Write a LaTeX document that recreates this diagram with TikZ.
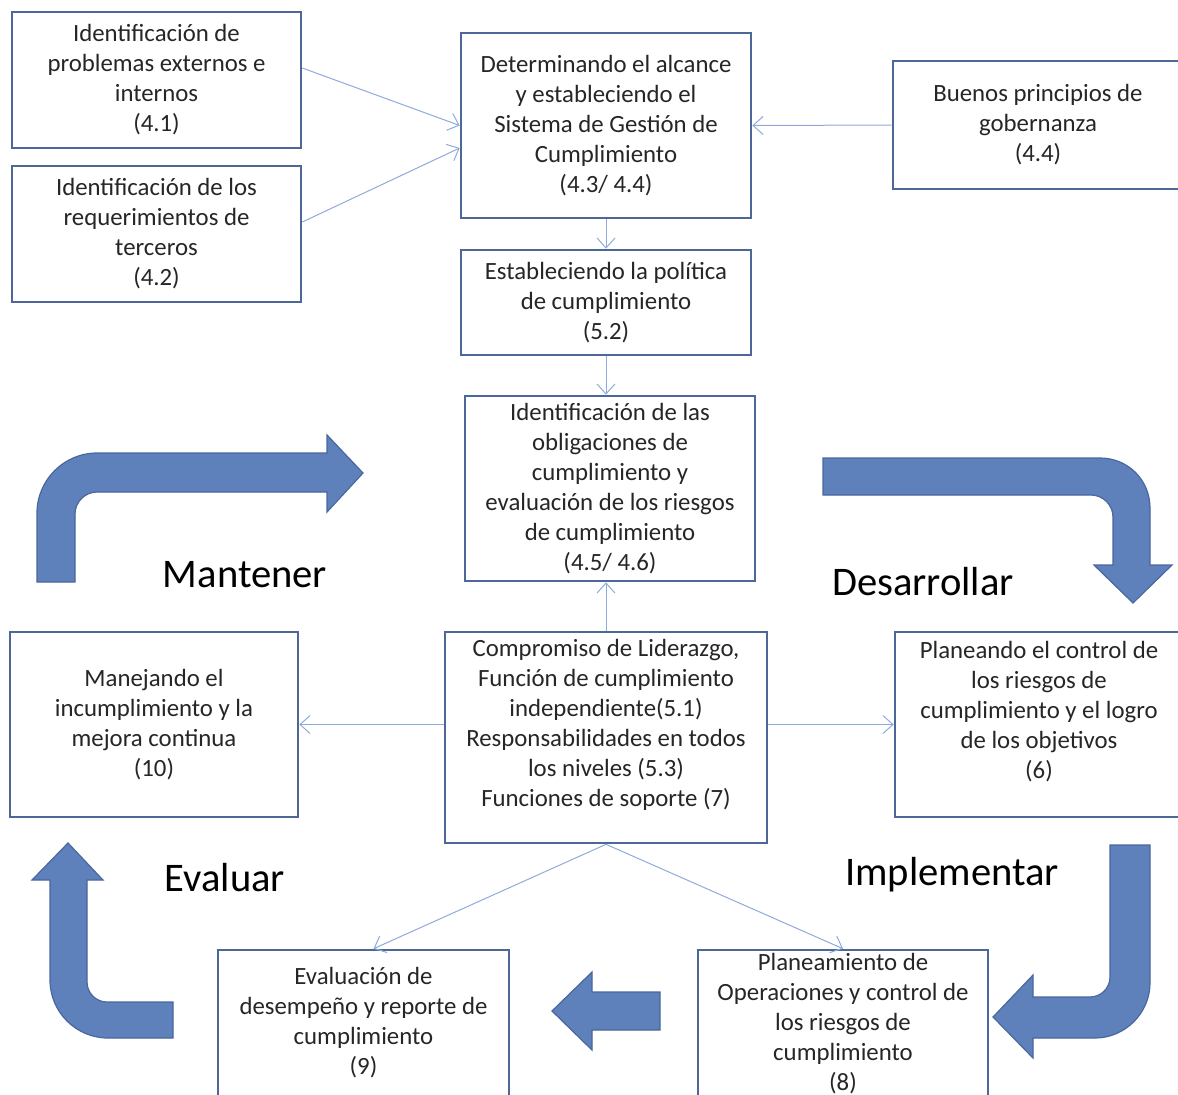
\documentclass[tikz,border=0pt]{standalone}
\usepackage{fontspec}
\setmainfont{Carlito}
\usepackage{xcolor}
\usepackage{tikz}
\usetikzlibrary{positioning, arrows.meta}

\definecolor{boxline}{HTML}{4D6799}
\definecolor{linkblue}{HTML}{8FAADC}
\definecolor{arrowblue}{HTML}{5E80BB}
\definecolor{arrowline}{HTML}{4A679E}
\definecolor{txt}{HTML}{262626}

\begin{document}
\begin{tikzpicture}[
    x=0.5pt, y=-0.5pt,
    box/.style={rectangle, draw=boxline, line width=1.3pt, fill=white, align=center, text=txt, inner sep=0pt, font=\fontsize{12.4}{15}\selectfont},
    link/.style={-{Straight Barb[length=5pt, width=9pt]}, draw=linkblue, line width=0.5pt},
    bigarrow/.style={fill=arrowblue, draw=arrowline, line width=0.6pt},
    phase/.style={text=black, font=\fontsize{20.3}{24}\selectfont},
]
\clip (0,0) rectangle (1178,1094);

% context and scope
\node[box, minimum width=144.5pt, minimum height=68pt] (b41) at (156.5,80) {Identificación de\\problemas externos e\\internos\\(4.1)};
\node[box, minimum width=144.5pt, minimum height=68pt] (b42) at (156.5,234) {Identificación de los\\requerimientos de\\terceros\\(4.2)};
\node[box, minimum width=145pt, minimum height=92.5pt] (b43) at (606,125.5) {Determinando el alcance\\y estableciendo el\\Sistema de Gestión de\\Cumplimiento\\(4.3/ 4.4)};
\node[box, minimum width=145pt, minimum height=64pt] (b44) at (1038,125) {Buenos principios de\\gobernanza\\(4.4)};
\node[box, minimum width=145pt, minimum height=52.5pt, below=14.7pt of b43] (b52) {Estableciendo la política\\de cumplimiento\\(5.2)};
\node[box, minimum width=145pt, minimum height=92.5pt, below=19.2pt of b52, xshift=2pt] (b45) {Identificación de las\\obligaciones de\\cumplimiento y\\evaluación de los riesgos\\de cumplimiento\\(4.5/ 4.6)};

% leadership and cycle
\node[box, minimum width=161pt, minimum height=105.5pt] (blid) at (606,737.5) {Compromiso de Liderazgo,\\Función de cumplimiento\\independiente(5.1)\\Responsabilidades en todos\\los niveles (5.3)\\Funciones de soporte (7)\\ \mbox{}};
\node[box, minimum width=144pt, minimum height=92.5pt] (b10) at (154,724.5) {Manejando el\\incumplimiento y la\\mejora continua\\(10)};
\node[box, minimum width=144pt, minimum height=92.5pt] (b6) at (1039,724.5) {Planeando el control de\\los riesgos de\\cumplimiento y el logro\\de los objetivos\\(6)\\ \mbox{}};
\node[box, minimum width=145.5pt, minimum height=73pt] (b9) at (363.5,1023) {Evaluación de\\desempeño y reporte de\\cumplimiento\\(9)};
\node[box, minimum width=145pt, minimum height=73.5pt] (b8) at (843,1023.5) {Planeamiento de\\Operaciones y control de\\los riesgos de\\cumplimiento\\(8)};

\draw[link] ([yshift=6pt]b41.east) -- (b43.west);
\draw[link] ([yshift=6pt]b42.east) -- ([yshift=-11.25pt]b43.west);
\draw[link] (b44.west) -- (b43.east);
\draw[link] (b43.south) -- (b52.north);
\draw[link] (b52.south) -- (b52.south |- b45.north);
\draw[link] (blid.north) -- (blid.north |- b45.south);
\draw[link] ([yshift=6.5pt]blid.west) -- (b10.east);
\draw[link] ([yshift=6.5pt]blid.east) -- (b6.west);
\draw[link] (blid.south) -- ([xshift=5pt]b9.north);
\draw[link] (blid.south) -- (b8.north);

% big cycle arrows
\draw[bigarrow] (37,582) -- (37,513) .. controls (37,480) and (64,453) .. (97,453) -- (327,453) -- (327,435) -- (363,473) -- (327,512) -- (327,492) -- (97,492) .. controls (85,492) and (75,502) .. (75,514) -- (75,582) -- cycle;
\draw[bigarrow] (823,458) -- (1100,458) .. controls (1128,458) and (1150,480) .. (1150,508) -- (1150,565) -- (1172,565) -- (1133,603) -- (1094,565) -- (1113,565) -- (1113,517) .. controls (1113,505) and (1103,495) .. (1091,495) -- (823,495) -- cycle;
\draw[bigarrow] (1110,845) -- (1150,845) -- (1150,983) .. controls (1150,1013) and (1125,1038) .. (1095,1038) -- (1033,1038) -- (1033,1058) -- (993,1017) -- (1033,975) -- (1033,997) -- (1090,997) .. controls (1101,997) and (1110,988) .. (1110,977) -- cycle;
\draw[bigarrow] (173,1038) -- (108,1038) .. controls (76,1038) and (50,1012) .. (50,980) -- (50,880) -- (32,880) -- (68,843) -- (103,880) -- (87,880) -- (87,982) .. controls (87,993) and (96,1002) .. (107,1002) -- (173,1002) -- cycle;
\draw[bigarrow] (660,992) -- (592,992) -- (592,972) -- (552,1011) -- (592,1050) -- (592,1030) -- (660,1030) -- cycle;

\node[phase] (mantener) at (245,575) {Mantener};
\node[phase] (desarrollar) at (923,582) {Desarrollar};
\node[phase] (evaluar) at (225,878) {Evaluar};
\node[phase] (implementar) at (952,875) {Implementar};
\end{tikzpicture}
\end{document}
